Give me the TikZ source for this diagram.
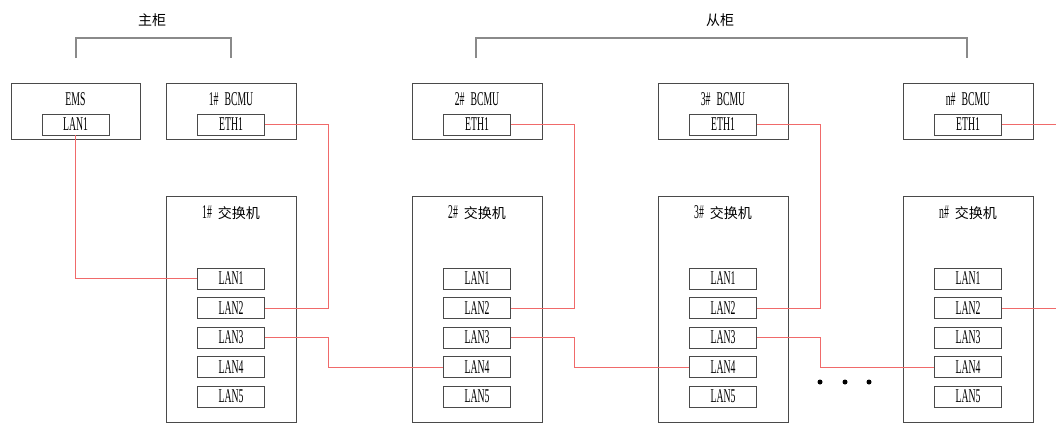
\documentclass[tikz,border=0pt]{standalone}
\usepackage{fontspec}
\setmainfont{Liberation Serif}[FakeStretch=0.5]
\newfontfamily\cjk{Noto Sans CJK SC}
\definecolor{boxc}{HTML}{4A4A4A}
\definecolor{brk}{HTML}{8A8A8A}
\definecolor{wire}{HTML}{F06A6A}
\newcommand{\gap}{\hspace{6pt}}
\begin{document}
\begin{tikzpicture}[x=1pt,y=-1pt,
  unit/.style={draw=boxc,line width=0.9pt,minimum width=130pt,minimum height=56pt,inner sep=0pt},
  switchbox/.style={draw=boxc,line width=0.9pt,minimum width=130pt,minimum height=226pt,inner sep=0pt},
  port/.style={draw=boxc,line width=0.9pt,minimum width=67pt,minimum height=21pt,inner sep=0pt,font=\fontsize{19.5}{19.5}\selectfont},
  ttl/.style={inner sep=0pt,font=\fontsize{19.5}{19.5}\selectfont},
  cn/.style={inner sep=0pt,font=\fontsize{14}{14}\cjk},
  bracket/.style={draw=brk,line width=1.1pt},
  wireln/.style={draw=wire,line width=0.9pt},
  dot/.style={circle,fill=black,inner sep=0pt,minimum size=5pt}]
\useasboundingbox (0,0) rectangle (1056,423);

% brackets
\node[cn] (tmain) at (152,20.5) {主柜};
\node[cn] (tsub) at (720,20.5) {从柜};
\draw[bracket] (76,58) -- (76,38) -- (231,38) -- (231,58);
\draw[bracket] (476,58) -- (476,38) -- (967,38) -- (967,58);

% EMS
\node[unit,minimum width=129pt] (ems) at (75.5,111) {};
\node[ttl] (emst) at (75.5,99) {EMS};
\node[port] (emslan) at (75.5,124.5) {LAN1};

% columns
\foreach \i/\x/\n in {1/166/1,2/412/2,3/658/3,4/903/n}{
  \node[unit] (b\i) at (\x+65,111) {};
  \node[ttl] (bt\i) at (\x+65,99) {\n\#\gap BCMU};
  \node[port] (eth\i) at (\x+65,124.5) {ETH1};
  \node[switchbox] (s\i) at (\x+65,309) {};
  \node[ttl] (st\i) at (\x+65,213) {\n\#\gap{\cjk\fontsize{14}{14}\selectfont 交换机}};
  \foreach \k in {1,...,5}{
    \node[port] (l\i\k) at (\x+65,{278.5+29.5*(\k-1)}) {LAN\k};
  }
  \coordinate (v\i) at (\x+162,0);
}
\coordinate (edge) at (1056,0);

% wires
\draw[wireln] (emslan.south) |- (l11.west);
\foreach \i in {1,2,3}{
  \draw[wireln] (eth\i.east) -- (v\i |- eth\i.east) -- (v\i |- l\i2.east) -- (l\i2.east);
}
\draw[wireln] (l13.east) -- (v1 |- l13.east) -- (v1 |- l24.west) -- (l24.west);
\draw[wireln] (l23.east) -- (v2 |- l23.east) -- (v2 |- l34.west) -- (l34.west);
\draw[wireln] (l33.east) -- (v3 |- l33.east) -- (v3 |- l44.west) -- (l44.west);
\draw[wireln] (eth4.east) -- (edge |- eth4.east);
\draw[wireln] (l42.east) -- (edge |- l42.east);

% dots
\node[dot] (d1) at (820,382) {};
\node[dot] (d2) at (845,382) {};
\node[dot] (d3) at (869,382) {};
\end{tikzpicture}
\end{document}
